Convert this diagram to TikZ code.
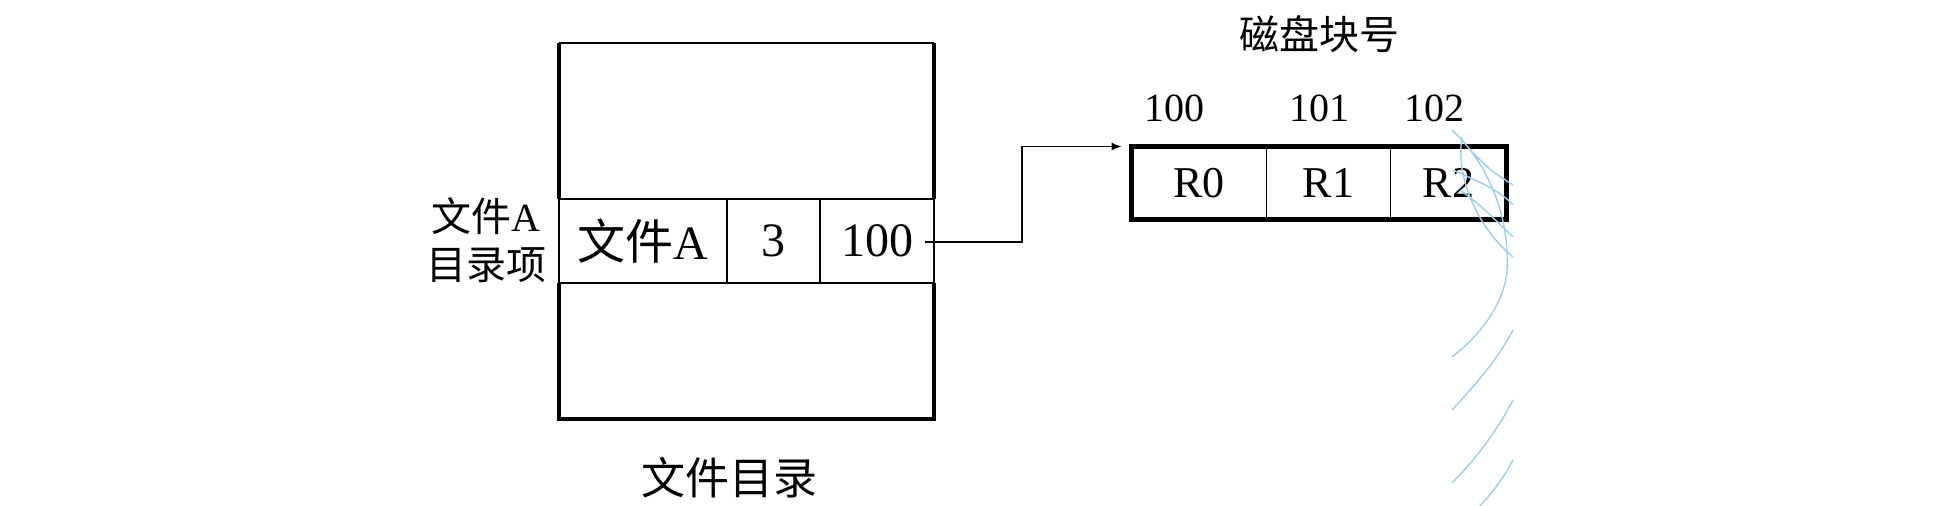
\documentclass[tikz,border=0pt]{standalone}
\usepackage{fontspec}
\setmainfont{Liberation Serif}
\newfontfamily\cjk{Noto Sans CJK SC}
\usetikzlibrary{positioning,arrows.meta}
\definecolor{arcblue}{RGB}{155,208,235}

\begin{document}
\begin{tikzpicture}
	[x=0.5pt, y=-0.5pt, >={Latex[length=5pt,width=4pt]}, node distance=0pt,
	 rowcell/.style={draw, line width=0.6pt, minimum height=42pt, inner sep=0pt, outer sep=0pt, font=\fontsize{24}{28}\selectfont},
	 blockcell/.style={draw, line width=0.6pt, minimum height=36.5pt, inner sep=0pt, outer sep=0pt, font=\fontsize{22}{26}\selectfont},
	 heavy/.style={line width=2.3pt},
	 medium/.style={line width=1.1pt},
	 tagtext/.style={font=\fontsize{20}{24}\selectfont, inner sep=0pt}]
\useasboundingbox (0,0) rectangle (1948,506);

% directory entry row
\node[rowcell, minimum width=84pt] (fname) at (643,241) {{\cjk 文件}A};
\node[rowcell, minimum width=46.5pt, right=of fname] (fcount) {3};
\node[rowcell, minimum width=57pt, right=of fcount] (faddr) {100};
\draw[medium] (fname.north west) -- (faddr.north east);
\draw[medium] (fname.south west) -- (faddr.south east);

% rest of the directory
\draw[heavy] (fname.north west) -- ++(0,-156) coordinate (dtl);
\coordinate (dtr) at (dtl -| faddr.north east);
\draw[medium] (dtl) -- (dtr);
\draw[heavy] (dtr) -- (faddr.north east);
\draw[heavy] (fname.south west) -- ++(0,136) -| (faddr.south east);

\node[tagtext, align=center] (entrylbl) at (486,240) {{\cjk 文件}A\\{\cjk 目录项}};
\node[tagtext, font=\fontsize{22}{26}\selectfont] (dirlbl) at (729,478) {\cjk 文件目录};

% disk blocks
\node[blockcell, minimum width=67.5pt] (r0) at (1199,183) {R0};
\node[blockcell, minimum width=62pt, right=of r0] (r1) {R1};
\node[blockcell, minimum width=58pt, right=of r1] (r2) {R2};
\draw[heavy] (r0.north west) rectangle (r2.south east);

\node[tagtext] (n0) at (1174,108) {100};
\node[tagtext] (n1) at (1319,108) {101};
\node[tagtext] (n2) at (1434,108) {102};
\node[tagtext] (disklbl) at (1319,34) {\cjk 磁盘块号};

% pointer
\coordinate (ptr) at (925,242);
\draw[->, line width=0.7pt] (ptr) -- ++(97,0) |- ([xshift=-5pt]r0.north west);

% light blue arcs
\begin{scope}
\clip (1451,120) rectangle (1514,506);
\draw[arcblue, line width=0.7pt]
	(1452,130) .. controls (1490,165) and (1510,220) .. (1507,270)
	           .. controls (1504,305) and (1480,335) .. (1452,357)
	(1462,137) .. controls (1455,180) and (1480,230) .. (1513,257)
	(1453,170) .. controls (1475,180) and (1500,190) .. (1513,205)
	(1460,190) .. controls (1480,205) .. (1513,237)
	(1470,150) .. controls (1490,170) .. (1513,185)
	(1452,410) .. controls (1480,380) and (1500,355) .. (1513,330)
	(1452,483) .. controls (1480,455) and (1500,425) .. (1513,400)
	(1480,506) .. controls (1495,490) and (1505,475) .. (1513,460);
\end{scope}

\end{tikzpicture}
\end{document}
